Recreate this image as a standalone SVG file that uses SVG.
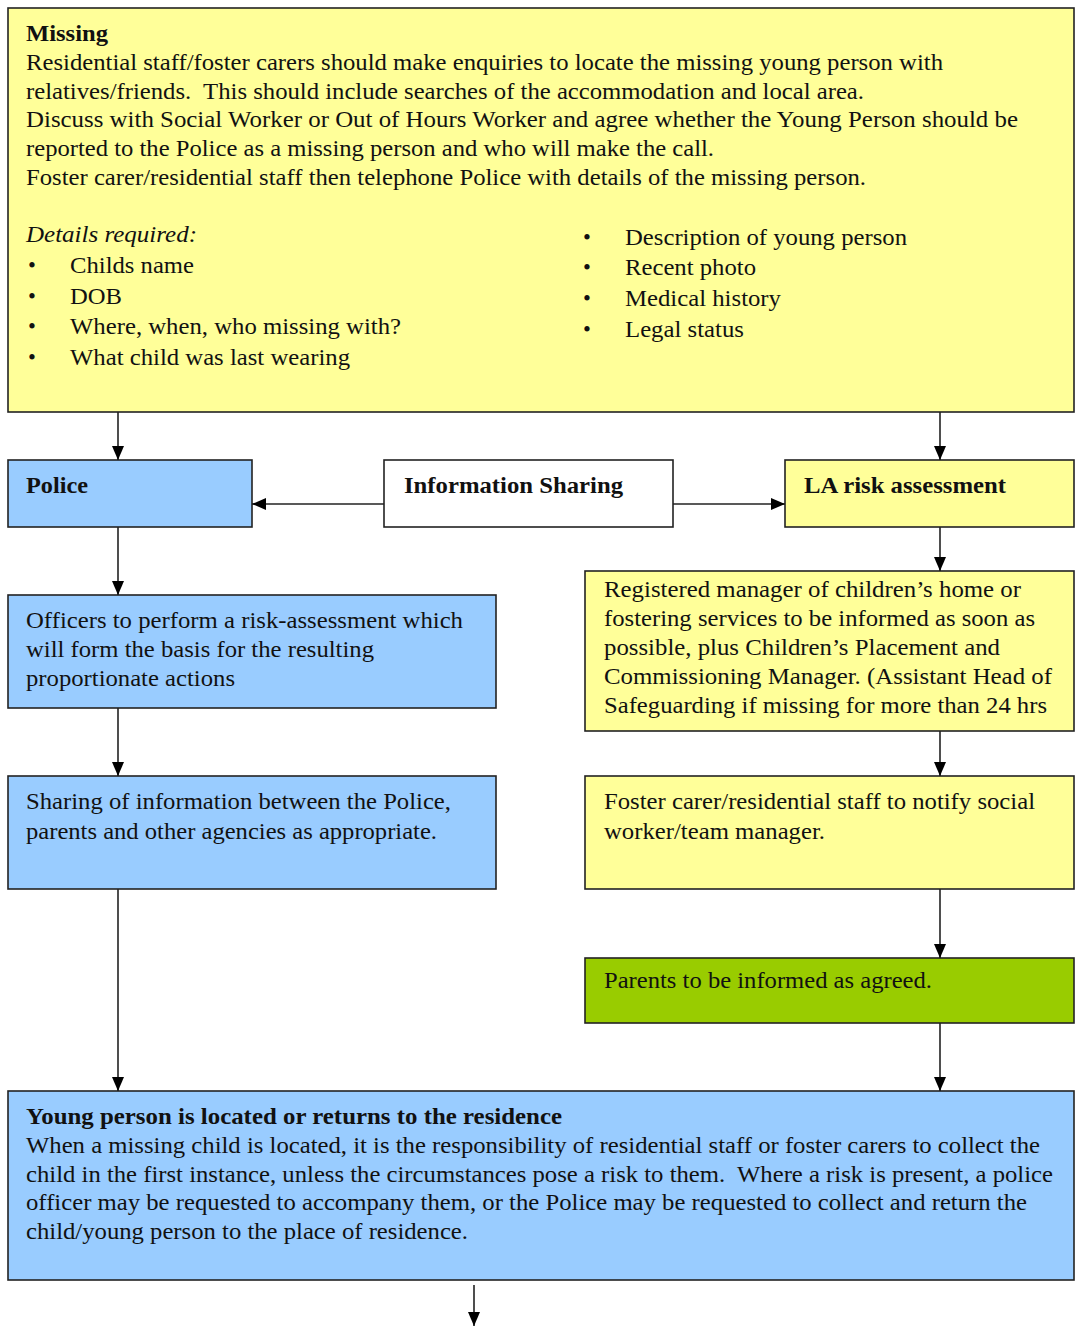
<svg xmlns="http://www.w3.org/2000/svg" width="1076" height="1326" viewBox="0 0 1076 1326">
<defs>
<marker id="ah" markerWidth="14" markerHeight="12" refX="14" refY="6" orient="auto" markerUnits="userSpaceOnUse">
<path d="M0,0 L14,6 L0,12 Z" fill="#000"/>
</marker>
<style>
.box{stroke:#222;stroke-width:1.6}
.y{fill:#ffff99}.b{fill:#99ccff}.w{fill:#fff}.g{fill:#99cc00}
text{font-family:"Liberation Serif","Times New Roman",serif;font-size:22.5px;fill:#111}
.bd{font-weight:bold}
.it{font-style:italic}
.c line{stroke:#222;stroke-width:1.6;marker-end:url(#ah)}
</style>
</defs>
<rect width="1076" height="1326" fill="#fff"/>
<g id="missing">
<rect class="box y" x="8" y="8" width="1066" height="404"/>
<text x="26" y="41" class="bd" textLength="82" lengthAdjust="spacingAndGlyphs">Missing</text>
<text x="26" y="70" textLength="917" lengthAdjust="spacingAndGlyphs">Residential staff/foster carers should make enquiries to locate the missing young person with</text>
<text x="26" y="99" textLength="838" lengthAdjust="spacingAndGlyphs" xml:space="preserve">relatives/friends.  This should include searches of the accommodation and local area.</text>
<text x="26" y="127" textLength="992" lengthAdjust="spacingAndGlyphs">Discuss with Social Worker or Out of Hours Worker and agree whether the Young Person should be</text>
<text x="26" y="156" textLength="688" lengthAdjust="spacingAndGlyphs">reported to the Police as a missing person and who will make the call.</text>
<text x="26" y="185" textLength="840" lengthAdjust="spacingAndGlyphs">Foster carer/residential staff then telephone Police with details of the missing person.</text>
<text x="26" y="242" class="it" textLength="171" lengthAdjust="spacingAndGlyphs">Details required:</text>
<text x="28" y="273">•</text><text x="70" y="273" textLength="124" lengthAdjust="spacingAndGlyphs">Childs name</text>
<text x="28" y="304">•</text><text x="70" y="304" textLength="52" lengthAdjust="spacingAndGlyphs">DOB</text>
<text x="28" y="334">•</text><text x="70" y="334" textLength="331" lengthAdjust="spacingAndGlyphs">Where, when, who missing with?</text>
<text x="28" y="365">•</text><text x="70" y="365" textLength="280" lengthAdjust="spacingAndGlyphs">What child was last wearing</text>
<text x="583" y="245">•</text><text x="625" y="245" textLength="282" lengthAdjust="spacingAndGlyphs">Description of young person</text>
<text x="583" y="275">•</text><text x="625" y="275" textLength="131" lengthAdjust="spacingAndGlyphs">Recent photo</text>
<text x="583" y="306">•</text><text x="625" y="306" textLength="156" lengthAdjust="spacingAndGlyphs">Medical history</text>
<text x="583" y="337">•</text><text x="625" y="337" textLength="119" lengthAdjust="spacingAndGlyphs">Legal status</text>
</g>
<g id="police">
<rect class="box b" x="8" y="460" width="244" height="67"/>
<text x="26" y="493" class="bd" textLength="62" lengthAdjust="spacingAndGlyphs">Police</text>
</g>
<g id="info">
<rect class="box w" x="384" y="460" width="289" height="67"/>
<text x="404" y="493" class="bd" textLength="219" lengthAdjust="spacingAndGlyphs">Information Sharing</text>
</g>
<g id="la">
<rect class="box y" x="785" y="460" width="289" height="67"/>
<text x="804" y="493" class="bd" textLength="202" lengthAdjust="spacingAndGlyphs">LA risk assessment</text>
</g>
<g id="officers">
<rect class="box b" x="8" y="595" width="488" height="113"/>
<text x="26" y="628" textLength="437" lengthAdjust="spacingAndGlyphs">Officers to perform a risk-assessment which</text>
<text x="26" y="657" textLength="348" lengthAdjust="spacingAndGlyphs">will form the basis for the resulting</text>
<text x="26" y="686" textLength="209" lengthAdjust="spacingAndGlyphs">proportionate actions</text>
</g>
<g id="registered">
<rect class="box y" x="585" y="571" width="489" height="160"/>
<text x="604" y="597" textLength="417" lengthAdjust="spacingAndGlyphs">Registered manager of children’s home or</text>
<text x="604" y="626" textLength="431" lengthAdjust="spacingAndGlyphs">fostering services to be informed as soon as</text>
<text x="604" y="655" textLength="396" lengthAdjust="spacingAndGlyphs">possible, plus Children’s Placement and</text>
<text x="604" y="684" textLength="448" lengthAdjust="spacingAndGlyphs">Commissioning Manager. (Assistant Head of</text>
<text x="604" y="713" textLength="443" lengthAdjust="spacingAndGlyphs">Safeguarding if missing for more than 24 hrs</text>
</g>
<g id="sharing">
<rect class="box b" x="8" y="776" width="488" height="113"/>
<text x="26" y="809" textLength="425" lengthAdjust="spacingAndGlyphs">Sharing of information between the Police,</text>
<text x="26" y="839" textLength="411" lengthAdjust="spacingAndGlyphs">parents and other agencies as appropriate.</text>
</g>
<g id="foster">
<rect class="box y" x="585" y="776" width="489" height="113"/>
<text x="604" y="809" textLength="431" lengthAdjust="spacingAndGlyphs">Foster carer/residential staff to notify social</text>
<text x="604" y="839" textLength="221" lengthAdjust="spacingAndGlyphs">worker/team manager.</text>
</g>
<g id="parents">
<rect class="box g" x="585" y="958" width="489" height="65"/>
<text x="604" y="988" textLength="328" lengthAdjust="spacingAndGlyphs">Parents to be informed as agreed.</text>
</g>
<g id="located">
<rect class="box b" x="8" y="1091" width="1066" height="189"/>
<text x="26" y="1124" class="bd" textLength="536" lengthAdjust="spacingAndGlyphs">Young person is located or returns to the residence</text>
<text x="26" y="1153" textLength="1014" lengthAdjust="spacingAndGlyphs">When a missing child is located, it is the responsibility of residential staff or foster carers to collect the</text>
<text x="26" y="1182" textLength="1027" lengthAdjust="spacingAndGlyphs" xml:space="preserve">child in the first instance, unless the circumstances pose a risk to them.  Where a risk is present, a police</text>
<text x="26" y="1210" textLength="1001" lengthAdjust="spacingAndGlyphs">officer may be requested to accompany them, or the Police may be requested to collect and return the</text>
<text x="26" y="1239" textLength="442" lengthAdjust="spacingAndGlyphs">child/young person to the place of residence.</text>
</g>
<g id="connectors" class="c">
<line x1="118" y1="412" x2="118" y2="460"/>
<line x1="940" y1="412" x2="940" y2="460"/>
<line x1="384" y1="504" x2="252" y2="504"/>
<line x1="673" y1="504" x2="785" y2="504"/>
<line x1="118" y1="527" x2="118" y2="595"/>
<line x1="940" y1="527" x2="940" y2="571"/>
<line x1="118" y1="708" x2="118" y2="776"/>
<line x1="940" y1="731" x2="940" y2="776"/>
<line x1="940" y1="889" x2="940" y2="958"/>
<line x1="118" y1="889" x2="118" y2="1091"/>
<line x1="940" y1="1023" x2="940" y2="1091"/>
<line x1="474" y1="1285" x2="474" y2="1326"/>
</g>
</svg>
